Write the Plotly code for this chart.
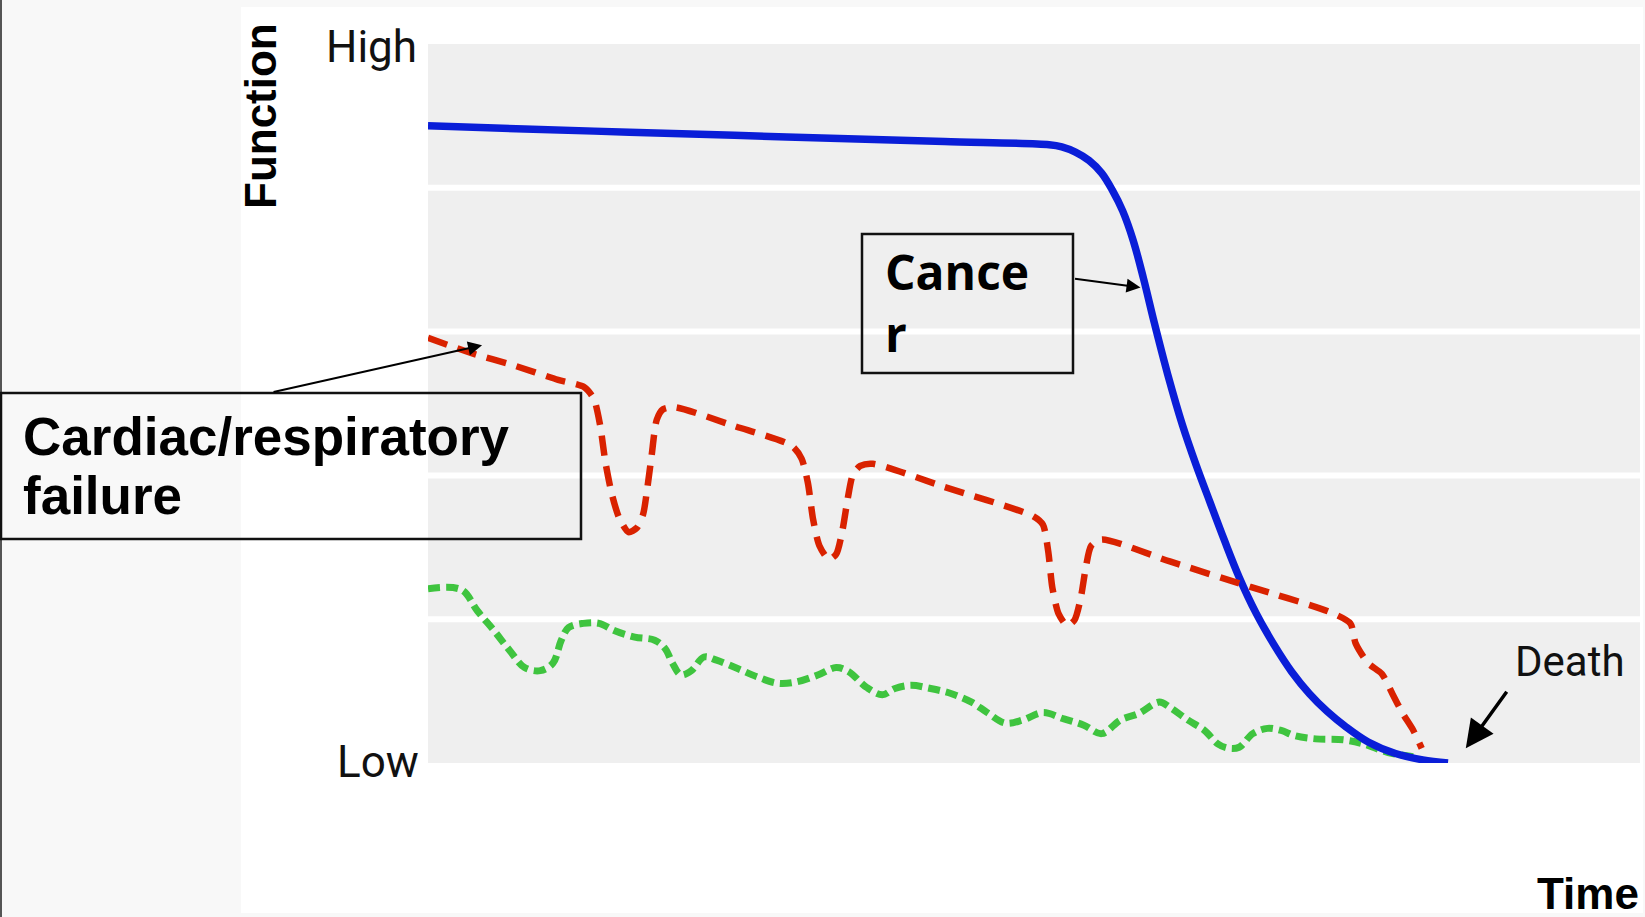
import plotly.graph_objects as go

# Axis extents: time runs left to right, function from low (0) to high (top)
X_MAX = 115.5
Y_MAX = 68.5
BAND_EDGES = [13.7, 27.4, 41.1, 54.8]

# Cancer trajectory: long plateau, then a rapid terminal decline
cancer_time = [0, 9.2, 19.2, 29.2, 39.2, 49.2, 59.2, 60.4, 61.7, 63.0, 64.2, 65.2,
               66.2, 67.2, 68.2, 69.2, 70.5, 71.9, 73.2, 74.5, 75.9, 77.3, 78.9,
               80.6, 82.3, 84.0, 85.7, 87.4, 89.6, 92.2, 94.8, 97.2]
cancer_function = [60.7, 60.4, 60.1, 59.8, 59.5, 59.2, 58.9, 58.7, 58.2, 57.4, 56.2,
                   54.6, 52.6, 49.8, 46.1, 42.0, 37.0, 32.2, 28.4, 24.9, 21.2, 17.7,
                   14.3, 11.3, 8.7, 6.6, 4.9, 3.5, 2.0, 0.9, 0.3, 0.0]

# Cardiac/respiratory failure: gradual decline with acute exacerbations
organ_time = [0, 4.3, 8.1, 12.4, 14.9, 15.8, 16.4, 16.9, 17.5, 18.2, 19.1, 19.9,
              20.5, 20.9, 21.3, 21.8, 22.4, 23.5, 29.2, 34.7, 35.6, 36.2, 36.7,
              37.3, 38.2, 38.9, 39.5, 40.0, 40.5, 41.2, 42.4, 49.2, 57.7, 58.6,
              59.1, 59.5, 60.1, 60.9, 61.6, 62.2, 62.7, 63.2, 64.2, 70.7, 78.3,
              85.9, 87.9, 88.4, 89.6, 90.9, 91.9, 92.9, 93.9, 94.7]
organ_function = [40.5, 39.0, 37.9, 36.5, 35.8, 34.7, 32.2, 28.7, 25.7, 23.4, 22.0,
                  22.4, 23.7, 26.2, 29.2, 32.7, 33.7, 33.9, 32.1, 30.2, 29.0, 26.7,
                  23.2, 20.7, 19.4, 19.9, 22.2, 25.2, 27.5, 28.3, 28.5, 26.3, 23.5,
                  22.7, 20.2, 16.7, 14.2, 13.1, 13.6, 15.7, 18.7, 20.7, 21.3, 19.2,
                  16.8, 14.4, 13.3, 11.4, 9.5, 8.5, 6.6, 4.7, 3.1, 1.4]

# Frailty: low baseline with slow, fluctuating decline
frailty_time = [0, 3.2, 4.7, 6.3, 7.8, 9.2, 10.7, 11.9, 12.7, 13.4, 14.8, 16.3, 17.8,
                19.7, 21.6, 22.6, 23.3, 24.1, 25.1, 26.3, 27.5, 29.5, 31.4, 33.3,
                35.0, 37.2, 38.9, 40.1, 41.8, 43.3, 44.5, 46.0, 47.9, 49.9, 51.8,
                53.3, 55.0, 56.7, 58.6, 60.6, 62.5, 64.2, 66.0, 67.7, 69.7, 70.7,
                72.4, 74.0, 75.3, 76.3, 77.3, 78.6, 80.0, 81.3, 82.6, 84.6, 87.3,
                89.2, 91.5, 93.9]
frailty_function = [16.6, 16.5, 14.5, 12.6, 10.7, 9.1, 8.8, 9.5, 11.7, 12.9, 13.3,
                    13.3, 12.6, 12.0, 11.7, 10.9, 9.5, 8.4, 8.8, 10.1, 9.8, 9.0, 8.2,
                    7.6, 7.7, 8.4, 9.1, 8.7, 7.2, 6.5, 7.1, 7.4, 7.1, 6.6, 5.8, 4.8,
                    3.8, 4.1, 4.8, 4.2, 3.6, 2.8, 4.1, 4.7, 5.8, 5.3, 4.1, 3.1, 1.8,
                    1.4, 1.5, 2.8, 3.3, 3.1, 2.6, 2.3, 2.2, 1.8, 1.0, 0.6]

y_tick_labels = ["Low", "High"]

# Canvas geometry (pixels)
W, H = 1645, 917
L, R, T, B = 428, 5, 44, 154
PW, PH = W - L - R, H - T - B


def px_x(px):
    return (px - L) / PW


def px_y(py):
    return (H - B - py) / PH


fig = go.Figure()

fig.add_trace(go.Scatter(
    x=frailty_time, y=frailty_function, mode="lines",
    line=dict(color="#3fc43f", width=7, dash="12px,6px", shape="spline", smoothing=1.0),
    hoverinfo="skip", showlegend=False))
fig.add_trace(go.Scatter(
    x=cancer_time, y=cancer_function, mode="lines",
    line=dict(color="#0a1ed8", width=7.5, shape="spline", smoothing=1.0),
    hoverinfo="skip", showlegend=False))
fig.add_trace(go.Scatter(
    x=organ_time, y=organ_function, mode="lines",
    line=dict(color="#d92200", width=6.5, dash="20px,11px", shape="spline", smoothing=0.7),
    hoverinfo="skip", showlegend=False))

shapes = []
# white panel on the light page background
shapes.append(dict(type="rect", xref="paper", yref="paper", layer="below",
                   x0=px_x(241), x1=px_x(1643), y0=px_y(913), y1=px_y(7),
                   fillcolor="white", line=dict(width=0)))
# thin dark rule on the far left edge
shapes.append(dict(type="line", xref="paper", yref="paper",
                   x0=px_x(1), x1=px_x(1), y0=px_y(917), y1=px_y(0),
                   line=dict(color="#555555", width=2)))
# grey plotting band split by white stripes
shapes.append(dict(type="rect", xref="x", yref="y", layer="below",
                   x0=0, x1=X_MAX, y0=0, y1=Y_MAX,
                   fillcolor="#efefef", line=dict(width=0)))
for yv in BAND_EDGES:
    shapes.append(dict(type="line", xref="x", yref="y", layer="below",
                       x0=0, x1=X_MAX, y0=yv, y1=yv,
                       line=dict(color="white", width=6)))
# label boxes
shapes.append(dict(type="rect", xref="paper", yref="paper",
                   x0=px_x(1), x1=px_x(581), y0=px_y(539), y1=px_y(393),
                   line=dict(color="#111111", width=2.5)))
shapes.append(dict(type="rect", xref="paper", yref="paper",
                   x0=px_x(862), x1=px_x(1073), y0=px_y(373), y1=px_y(234),
                   line=dict(color="#111111", width=2.5)))

annotations = []


def text_at(txt, px, py, size, family, xanchor="left", bold=False, angle=0,
            color="#000000", align="left"):
    if bold:
        txt = "<br>".join(f"<b>{part}</b>" for part in txt.split("<br>"))
    annotations.append(dict(
        text=txt, xref="paper", yref="paper",
        x=px_x(px), y=px_y(py), xanchor=xanchor, yanchor="middle",
        showarrow=False, textangle=angle, align=align,
        font=dict(size=size, family=family, color=color)))


text_at(y_tick_labels[1], 419, 47, 44, "Roboto", xanchor="right", color="#111111")
text_at(y_tick_labels[0], 421, 762, 44, "Roboto", xanchor="right", color="#111111")
text_at("Function", 260, 116, 44, "Liberation Sans", xanchor="center", bold=True, angle=-90)
text_at("Time", 1641, 893, 44, "Liberation Sans", xanchor="right", bold=True)
text_at("Death", 1513, 661, 42, "Roboto", color="#111111")
text_at("Cardiac/respiratory", 21, 436, 53, "Liberation Sans", bold=True)
text_at("failure", 21, 496, 53, "Liberation Sans", bold=True)
text_at("Cance<br>r", 883, 302, 48, "Open Sans", bold=True)

# pointer arrows
annotations.append(dict(x=67.9, y=45.3, xref="x", yref="y", ax=-67, ay=-9, text="",
                        showarrow=True, arrowhead=2, arrowsize=1.4, arrowwidth=2,
                        arrowcolor="#000000", standoff=0))
annotations.append(dict(x=5.15, y=39.8, xref="x", yref="y", ax=-210, ay=47, text="",
                        showarrow=True, arrowhead=2, arrowsize=1.4, arrowwidth=2,
                        arrowcolor="#000000", standoff=0))
annotations.append(dict(x=98.9, y=1.4, xref="x", yref="y", ax=42, ay=-58, text="",
                        showarrow=True, arrowhead=2, arrowsize=1.6, arrowwidth=3.5,
                        arrowcolor="#000000", standoff=0))

fig.update_layout(
    width=W, height=H,
    margin=dict(l=L, r=R, t=T, b=B, pad=0),
    paper_bgcolor="#f8f8f8", plot_bgcolor="rgba(0,0,0,0)",
    xaxis=dict(range=[0, X_MAX], visible=False, fixedrange=True),
    yaxis=dict(range=[0, Y_MAX], visible=False, fixedrange=True),
    shapes=shapes, annotations=annotations,
)

fig.write_html("out.html", config={"displayModeBar": False})
